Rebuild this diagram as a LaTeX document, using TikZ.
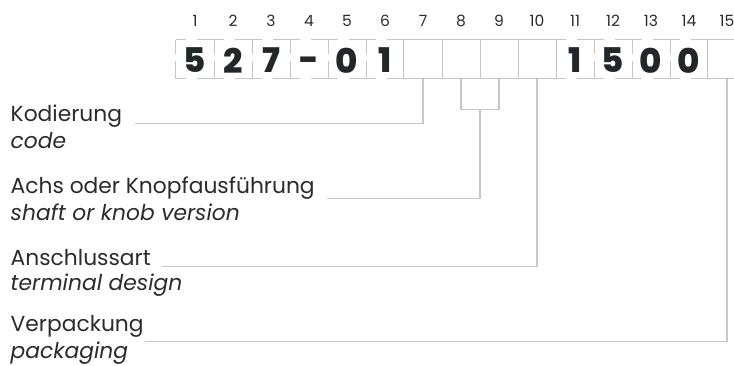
\documentclass[tikz,border=0pt]{standalone}
\usepackage{fontspec}
\setmainfont{Poppins}
\IfFontExistsTF{Poppins ExtraBold}{\newfontfamily\digitfont{Poppins ExtraBold}}{\newfontfamily\digitfont{Poppins}[FakeBold=1.5]}
\definecolor{linegray}{HTML}{C6C6C6}
\definecolor{txt}{HTML}{2B2B2B}
\definecolor{digitc}{HTML}{23272A}
\begin{document}
\begin{tikzpicture}[x=1bp,y=-1bp,
  conn/.style={draw=linegray,line width=1.3bp},
  hdash/.style={draw=linegray,line width=1.3bp,dash pattern=on 10bp off 11bp on 17bp off 0bp},
  vdash/.style={draw=linegray,line width=1.3bp,dash pattern=on 14bp off 7bp on 17bp off 0bp},
  boxcell/.style={minimum width=38bp,minimum height=38bp,inner sep=0pt,draw=none},
  numlab/.style={anchor=base,inner sep=0pt,text=txt,font=\fontsize{15.5bp}{18bp}\selectfont},
  digit/.style={inner sep=0pt,text=digitc,font=\fontsize{34bp}{36bp}\digitfont},
  lab/.style={anchor=base west,inner sep=0pt,text=txt,font=\fontsize{21.8bp}{24bp}\selectfont},
  labit/.style={lab,font=\fontsize{21.8bp}{24bp}\selectfont\itshape}]
\useasboundingbox (0,0) rectangle (734,365);
\clip (0,0) rectangle (734,365);
\foreach \i in {1,...,15} {
  \node[boxcell] (b\i) at ({195+(\i-1)*38},59) {};
  \node[numlab] (n\i) at ({195+(\i-1)*38},26.7) {\i};
}
% dashed digit boxes
\foreach \i in {1,...,6,11,12,13,14} {
  \draw[hdash] (b\i.north west) -- (b\i.north east);
  \draw[hdash] (b\i.south west) -- (b\i.south east);
}
\foreach \i in {1,...,5,11,12,13} {
  \draw[vdash] (b\i.north east) -- (b\i.south east);
}
\draw[vdash] (b1.north west) -- (b1.south west);
% solid boxes
\draw[conn] (b7.north west) rectangle (b10.south east);
\foreach \i in {7,8,9} {
  \draw[conn] (b\i.north east) -- (b\i.south east);
}
\draw[conn] (b15.north west) rectangle (b15.south east);
% digits
\foreach \i/\d in {1/5,2/2,3/7,5/0,6/1,11/1,12/5,13/0,14/0} {
  \node[digit] (c\i) at ([yshift=-1.5bp]b\i.center) {\d};
}
\node[digit,anchor=base] (c4) at ([yshift=-12bp]b4.center) {-};
% labels
\node[lab] (kod) at (10.5,121.7) {Kodierung};
\node[labit] (code) at (10.5,148.3) {code};
\node[lab] (achs) at (10.5,193.3) {Achs oder Knopfausführung};
\node[labit] (shaft) at (10.5,220) {shaft or knob version};
\node[lab] (ansch) at (10.5,265) {Anschlussart};
\node[labit] (term) at (10.5,290) {terminal design};
\node[lab] (verp) at (10.5,331.7) {Verpackung};
\node[labit] (pack) at (10.5,358) {packaging};
% connectors
\coordinate (kend) at (135,123.3);
\coordinate (br) at (480,109.3);
\coordinate (aend) at (326.7,198.7);
\coordinate (tend) at (161.7,266.7);
\coordinate (vend) at (145,341.7);
\draw[conn] (b7.south) |- (kend);
\draw[conn] (b8.south) -- (b8.south |- br) -- (b9.south |- br) -- (b9.south);
\draw[conn] (br) |- (aend);
\draw[conn] (b10.south) |- (tend);
\draw[conn] (b15.south) |- (vend);
\end{tikzpicture}
\end{document}
